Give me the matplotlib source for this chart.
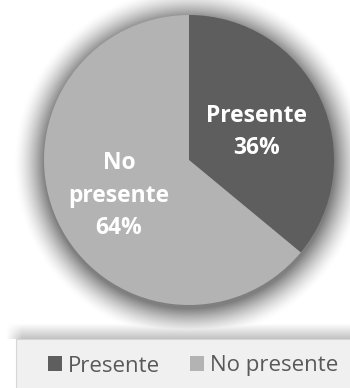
import numpy as np
import matplotlib
matplotlib.use("Agg")
import matplotlib.pyplot as plt

labels = ["Presente", "No presente"]
inner_lines = [["Presente", "36%"], ["No", "presente", "64%"]]
values = [36, 64]
colors = ["#5e5e5e", "#b3b3b3"]

W, H = 350, 388
cx, cy, rad = 189, 160, 145   # pixel coords, y from top

fig = plt.figure(figsize=(3.5, 3.88), dpi=100)

# soft shadow around the pie and above the legend box (pixel image, top-down)
yy, xx = np.mgrid[0:H, 0:W]
d = np.hypot(xx - cx, yy - (cy + 3))
shade = 0.5 * np.clip(1 - (d - rad) / 30, 0, 1) ** 1.5
band = 0.25 * np.clip(1 - (339 - yy) / 16, 0, 1) * (yy < 339)
band *= np.clip((xx - 6) / 16, 0, 1)
shade = np.maximum(shade, band)
img = np.ones((H, W, 3)) * (1 - shade[..., None])
fig.figimage(img, 0, 0, origin="upper", zorder=-5)

ax = fig.add_axes([0, 0, 1, 1])
ax.patch.set_alpha(0)

# legend box
ax.add_patch(plt.Rectangle((16, -10), W, H - 339 + 10, facecolor="#f0f0f0",
                           edgecolor="#d6d6d6", lw=0.8, zorder=1))

wedges, _ = ax.pie(values, colors=colors, startangle=90, counterclock=False,
                   center=(cx, H - cy), radius=rad, frame=True)
for w in wedges:
    w.set_zorder(2)
ax.set_xlim(0, W)
ax.set_ylim(0, H)
ax.set_aspect("auto")
ax.axis("off")

label_pos = [(257, [116, 148]), (119, [163, 196, 228])]
for (x, ys), lines in zip(label_pos, inner_lines):
    for y, s in zip(ys, lines):
        ax.text(x, H - y, s, ha="center", va="center", color="white",
                fontsize=16.5, fontweight="bold", family="Open Sans", zorder=3)

leg = ax.legend(wedges, labels, loc="center", bbox_to_anchor=(193 / W, (H - 366) / H),
                ncol=2, frameon=False, handlelength=0.63, handleheight=0.63,
                handletextpad=0.27, columnspacing=1.35, borderpad=0,
                prop={"family": "Open Sans", "size": 16})
for t in leg.get_texts():
    t.set_color("#595959")

fig.savefig("out.png", dpi=100)
